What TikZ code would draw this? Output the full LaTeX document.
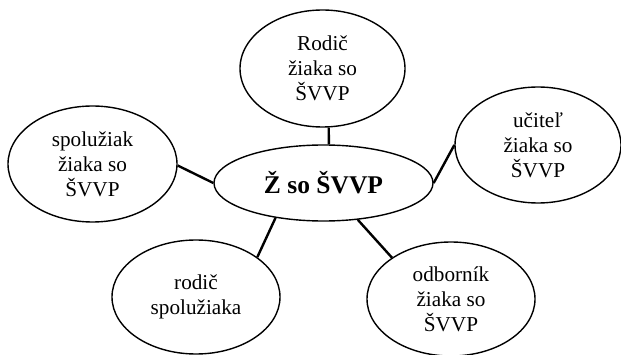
\documentclass[tikz,border=0pt]{standalone}
\usepackage{fontspec}
\setmainfont{Liberation Serif}
\usetikzlibrary{shapes.geometric}
\begin{document}
\begin{tikzpicture}[x=1pt,y=-1pt,
  bubble/.style={ellipse,draw,line width=1.4pt,inner sep=0pt,align=center,
    font=\fontsize{21.2}{25}\selectfont},
  hub/.style={bubble,font=\fontsize{25.5}{28}\selectfont\bfseries},
  link/.style={line width=2.4pt}]
\useasboundingbox (0,0) rectangle (621,355);
\node[hub,minimum width=219pt,minimum height=76pt] (hub) at (323.5,183) {Ž so ŠVVP};
\node[bubble,minimum width=165pt,minimum height=117pt] (parent) at (322.5,68.5) {Rodič\\žiaka so\\ŠVVP};
\node[bubble,minimum width=169pt,minimum height=116pt] (mate) at (92.5,164) {spolužiak\\žiaka so\\ŠVVP};
\node[bubble,minimum width=166pt,minimum height=116pt] (teacher) at (538,145) {učiteľ\\žiaka so\\ŠVVP};
\node[bubble,minimum width=168pt,minimum height=114pt] (mateparent) at (196,297) {rodič\\spolužiaka};
\node[bubble,minimum width=168pt,minimum height=114pt] (expert) at (451,299) {odborník\\žiaka so\\ŠVVP};
\draw[link] (parent.-84) -- (hub.82);
\draw[link] (mate.-1) -- (hub.180);
\draw[link] (hub.0) -- (teacher.180);
\draw[link] (hub.216.5) -- (mateparent.33.5);
\draw[link] (hub.-47) -- (expert.145);
\end{tikzpicture}
\end{document}
